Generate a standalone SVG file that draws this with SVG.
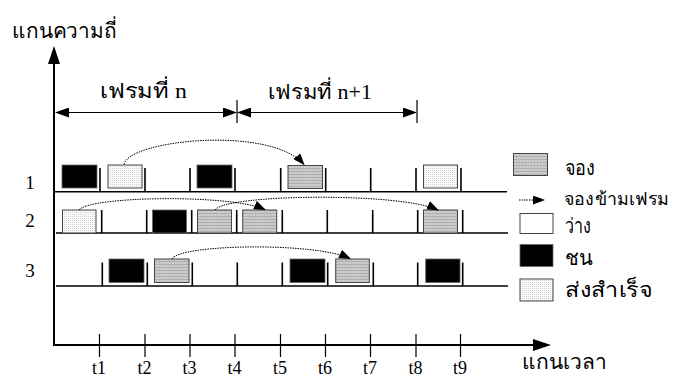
<svg xmlns="http://www.w3.org/2000/svg" width="675" height="379" viewBox="0 0 675 379">
<style>
.th{font-family:"Liberation Serif",serif;fill:#000;font-size:21px}
.num{font-family:"Liberation Serif",serif;font-size:19px;fill:#000}
.tl{font-family:"Liberation Serif",serif;font-size:18px;fill:#000;text-anchor:middle}
.ax{stroke:#000;stroke-width:2;fill:none}
.base{stroke:#000;stroke-width:1.6;fill:none}
.tk{stroke:#000;stroke-width:1.6;fill:none}
.fr{stroke:#000;stroke-width:1.2;fill:none}
.cv{stroke:#000;stroke-width:1;fill:none;stroke-dasharray:1.5 1}
.res{fill:url(#grid);stroke:#444;stroke-width:1}
.ok{fill:url(#dots);stroke:#444;stroke-width:1}
.col{fill:#000;stroke:#666;stroke-width:0.8}
.free{fill:#fff;stroke:#444;stroke-width:1}
</style>
<defs>
<pattern id="grid" width="3" height="3" patternUnits="userSpaceOnUse">
<rect width="3" height="3" fill="#cfcfcf"/>
<rect width="3" height="1" fill="#a9a9a9"/>
<rect width="1" height="3" fill="#bdbdbd"/>
</pattern>
<pattern id="dots" width="2" height="2" patternUnits="userSpaceOnUse">
<rect width="2" height="2" fill="#fafafa"/>
<rect width="1" height="1" fill="#d4d4d4"/>
</pattern>
<marker id="ah" markerWidth="12" markerHeight="9" refX="11" refY="4.5" orient="auto" markerUnits="userSpaceOnUse">
<path d="M0,0 L12,4.5 L0,9 Z" fill="#000"/>
</marker>
<marker id="fa" markerWidth="14" markerHeight="10" refX="13" refY="5" orient="auto-start-reverse" markerUnits="userSpaceOnUse">
<path d="M0,0 L14,5 L0,10 Z" fill="#000"/>
</marker>
</defs>

<g id="axes">
<line class="ax" x1="54" y1="62" x2="54" y2="345"/>
<path d="M54,46 L60,64 L48,64 Z" fill="#000"/>
<line class="ax" x1="53" y1="345" x2="535" y2="345"/>
<path d="M551,345 L533,339 L533,351 Z" fill="#000"/>
<text class="th" x="12" y="38" textLength="105" lengthAdjust="spacingAndGlyphs">แกนความถี่</text>
<text class="th" x="522" y="369" textLength="85" lengthAdjust="spacingAndGlyphs">แกนเวลา</text>
</g>

<g id="time-ticks">
<path class="fr" d="M99.5,334V357M145,334V357M190,334V357M235,334V357M280.5,334V357M325.5,334V357M370.5,334V357M416,334V357M460.5,334V357"/>
<text class="tl" y="374" x="99">t1</text>
<text class="tl" y="374" x="144.5">t2</text>
<text class="tl" y="374" x="189.5">t3</text>
<text class="tl" y="374" x="234.5">t4</text>
<text class="tl" y="374" x="280">t5</text>
<text class="tl" y="374" x="325">t6</text>
<text class="tl" y="374" x="370">t7</text>
<text class="tl" y="374" x="415.5">t8</text>
<text class="tl" y="374" x="460">t9</text>
</g>

<g id="frames">
<line class="fr" x1="56" y1="112.5" x2="236" y2="112.5" marker-start="url(#fa)" marker-end="url(#fa)"/>
<line class="fr" x1="238" y1="112.5" x2="416" y2="112.5" marker-start="url(#fa)" marker-end="url(#fa)"/>
<line class="fr" x1="237" y1="100" x2="237" y2="123"/>
<line class="fr" x1="417" y1="100" x2="417" y2="123"/>
<text class="th" x="100" y="98" textLength="87" lengthAdjust="spacingAndGlyphs">เฟรมที่ n</text>
<text class="th" x="268" y="99" textLength="104" lengthAdjust="spacingAndGlyphs">เฟรมที่ n+1</text>
</g>

<g id="row1">
<text class="num" x="30" y="189" text-anchor="middle">1</text>
<line class="base" x1="54" y1="191.7" x2="507" y2="191.7"/>
<path class="tk" d="M100,168V192M145,168V192M190,168V192M235,168V192M280.7,168V192M325.7,168V192M370.7,168V192M416,168V192M461,168V192"/>
<rect class="col" x="62" y="165" width="35" height="23"/>
<rect class="ok" x="108" y="165" width="34" height="23"/>
<rect class="col" x="197" y="165" width="35" height="23"/>
<rect class="res" x="288" y="165.5" width="34.5" height="23"/>
<rect class="ok" x="423.5" y="165" width="34" height="23"/>
</g>

<g id="row2">
<text class="num" x="30" y="226.5" text-anchor="middle">2</text>
<line class="base" x1="56" y1="233" x2="508" y2="233"/>
<path class="tk" d="M101.7,210V233M146.7,210V233M191.7,210V233M236.7,210V233M282.3,210V233M327.3,210V233M372.7,210V233M417.7,210V233M462.7,210V233"/>
<rect class="ok" x="62.5" y="210" width="33.5" height="23"/>
<rect class="col" x="152.5" y="210" width="34" height="23"/>
<rect class="res" x="197.5" y="210" width="34" height="23"/>
<rect class="res" x="242.7" y="210" width="34" height="23"/>
<rect class="res" x="423.5" y="210" width="34" height="23"/>
</g>

<g id="row3">
<text class="num" x="30" y="276.5" text-anchor="middle">3</text>
<line class="base" x1="56" y1="286" x2="508" y2="286"/>
<path class="tk" d="M102.3,262.5V286M147.3,262.5V286M192.3,262.5V286M237.3,262.5V286M282.3,262.5V286M327.7,262.5V286M373.3,262.5V286M417.7,262.5V286M462.7,262.5V286"/>
<rect class="col" x="109" y="259" width="35" height="23.5"/>
<rect class="res" x="154.5" y="259" width="34.5" height="23.5"/>
<rect class="col" x="290" y="259" width="35" height="23.5"/>
<rect class="res" x="335.7" y="259" width="33.6" height="23.5"/>
<rect class="col" x="425.7" y="259" width="34.3" height="23.5"/>
</g>

<g id="connectors">
<path class="cv" d="M124,164.5 C128,140 270,125 304,164.5" marker-end="url(#ah)"/>
<path class="cv" d="M79,210 C90,196 230,194 265,209.5" marker-end="url(#ah)"/>
<path class="cv" d="M215,210 C225,194 400,192 438,210" marker-end="url(#ah)"/>
<path class="cv" d="M172,259 C180,244 315,242 350,258.5" marker-end="url(#ah)"/>
</g>

<g id="legend">
<rect class="res" x="513.5" y="153.5" width="34" height="22"/>
<text class="th" x="565" y="175" textLength="30" lengthAdjust="spacingAndGlyphs">จอง</text>
<line class="cv" x1="519" y1="200" x2="544" y2="200" marker-end="url(#ah)"/>
<text class="th" x="564" y="205" style="font-size:17.5px" textLength="105" lengthAdjust="spacingAndGlyphs">จองข้ามเฟรม</text>
<rect class="free" x="520" y="213.5" width="33" height="20"/>
<text class="th" x="565" y="233" textLength="26" lengthAdjust="spacingAndGlyphs">ว่าง</text>
<rect class="col" x="520" y="244.5" width="33" height="22"/>
<text class="th" x="565" y="265" textLength="27" lengthAdjust="spacingAndGlyphs">ชน</text>
<rect class="ok" x="520" y="279" width="33" height="22"/>
<text class="th" x="565" y="297" textLength="87" lengthAdjust="spacingAndGlyphs">ส่งสำเร็จ</text>
</g>
</svg>
